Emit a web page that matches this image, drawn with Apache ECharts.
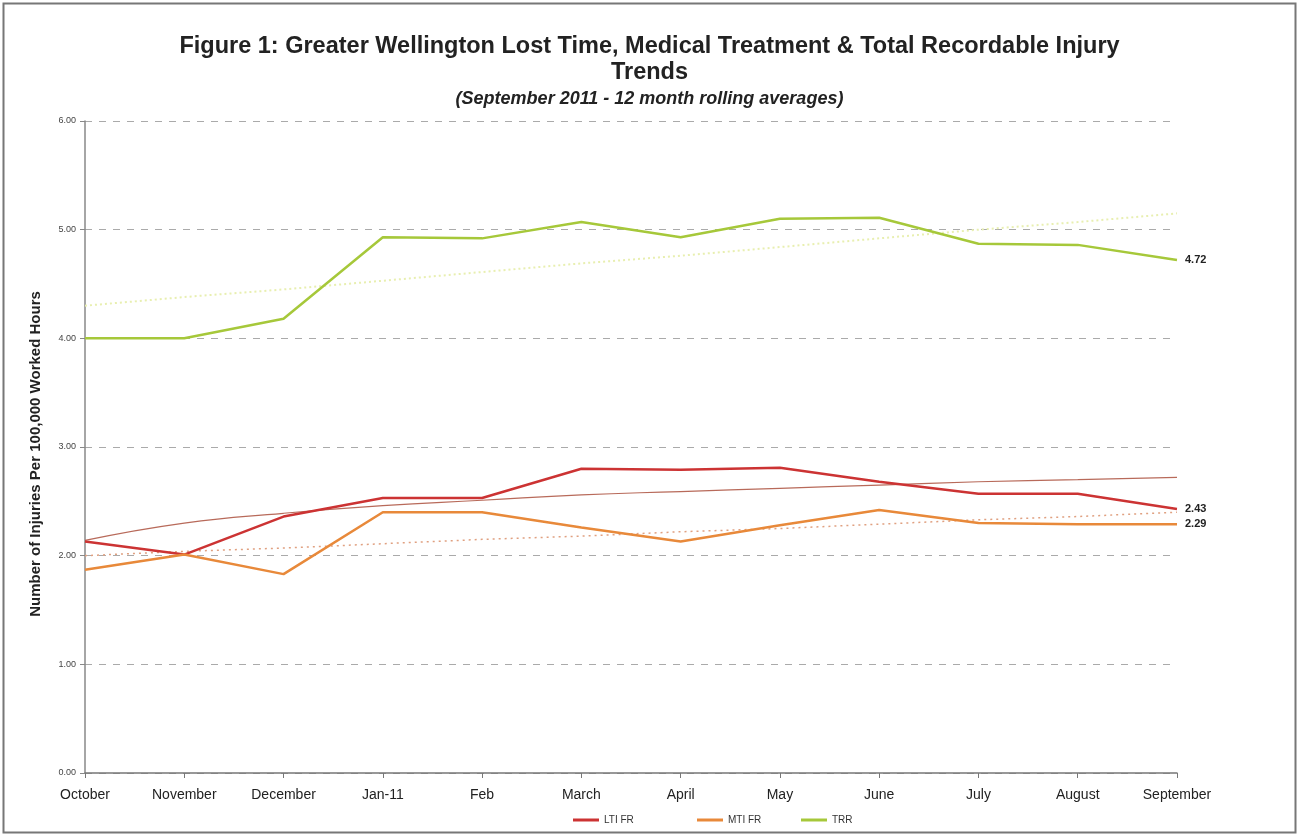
<!DOCTYPE html>
<html><head><meta charset="utf-8">
<script src="https://cdn.jsdelivr.net/npm/echarts@6/dist/echarts.min.js"></script>
<style>html,body{margin:0;padding:0;background:#fff}#c{width:1299px;height:836px}</style>
</head><body><div id="c"></div>
<script>
var categories = ['October','November','December','Jan-11','Feb','March','April','May','June','July','August','September'];
var ltiFR = [2.13, 2.01, 2.36, 2.53, 2.53, 2.80, 2.79, 2.81, 2.68, 2.57, 2.57, 2.43];
var mtiFR = [1.87, 2.01, 1.83, 2.40, 2.40, 2.26, 2.13, 2.28, 2.42, 2.30, 2.29, 2.29];
var trr   = [4.00, 4.00, 4.18, 4.93, 4.92, 5.07, 4.93, 5.10, 5.11, 4.87, 4.86, 4.72];
// trend lines
var ltiTrend = [2.14, 2.30, 2.39, 2.46, 2.51, 2.56, 2.59, 2.62, 2.65, 2.68, 2.70, 2.72];
var mtiTrend = [2.00, 2.04, 2.07, 2.11, 2.15, 2.18, 2.22, 2.25, 2.29, 2.33, 2.36, 2.40];
var trrTrend = [4.30, 4.38, 4.45, 4.53, 4.61, 4.69, 4.76, 4.84, 4.92, 5.00, 5.07, 5.15];
var yTicks = [0, 1, 2, 3, 4, 5, 6];
var legendNames = ['LTI FR','MTI FR','TRR'];

var chart = echarts.init(document.getElementById('c'), null, {renderer:'canvas'});
var ff = '"Liberation Sans", Arial, sans-serif';
function endLabel(){
  return {show:true, formatter:function(p){return p.value.toFixed(2);}, color:'#222', fontSize:11, fontWeight:'bold', fontFamily:ff, distance:8};
}
var legendLefts = [568, 692, 796];
var legends = legendNames.map(function(n, i){
  return {bottom:6, left:legendLefts[i], itemWidth:26, itemHeight:3, icon:'rect',
    data:[n], textStyle:{fontSize:10, color:'#333', fontFamily:ff}};
});
chart.setOption({
  animation:false,
  textStyle:{fontFamily:ff},
  graphic:[{type:'rect', shape:{x:3.5,y:3.5,width:1292,height:829}, style:{fill:'none', stroke:'#777', lineWidth:2}, silent:true}],
  title:[
    {text:'Figure 1: Greater Wellington Lost Time, Medical Treatment & Total Recordable Injury\nTrends', left:'center', top:29,
     textStyle:{fontSize:23.5, fontWeight:'bold', color:'#222', fontFamily:ff, lineHeight:26}},
    {text:'(September 2011 - 12 month rolling averages)', left:'center', top:85,
     textStyle:{fontSize:18, fontWeight:'bold', fontStyle:'italic', color:'#222', fontFamily:ff}}
  ],
  legend:legends,
  grid:{left:85, right:122, top:121, bottom:63},
  xAxis:{type:'category', data:categories, boundaryGap:false,
    axisLine:{lineStyle:{color:'#777', width:1.5}},
    axisTick:{show:true, alignWithLabel:true, length:5, lineStyle:{color:'#777'}},
    axisLabel:{fontSize:14, color:'#222', margin:15, fontFamily:ff}},
  yAxis:{type:'value', min:0, max:6, interval:1,
    name:'Number of Injuries Per 100,000 Worked Hours', nameLocation:'middle', nameGap:42, nameRotate:90,
    nameTextStyle:{fontSize:15, fontWeight:'bold', color:'#222', fontFamily:ff, padding:[0,14,0,0]},
    axisLine:{show:true, lineStyle:{color:'#888', width:1.5}},
    axisTick:{show:true, length:5, lineStyle:{color:'#888'}},
    axisLabel:{fontSize:9, color:'#444', margin:9, formatter:function(v){return v.toFixed(2);}},
    splitLine:{show:true, lineStyle:{color:'#aaa', type:[7,7], width:1}}},
  series:[
    {name:'LTI trend', type:'line', data:ltiTrend, symbol:'none', smooth:true, lineStyle:{color:'#b86a5a', width:1.2}, z:1},
    {name:'MTI trend', type:'line', data:mtiTrend, symbol:'none', lineStyle:{color:'#e0a080', width:1.5, type:[2,4]}, z:1},
    {name:'TRR trend', type:'line', data:trrTrend, symbol:'none', lineStyle:{color:'#e8efb0', width:2, type:[2,3]}, z:1},
    {name:'LTI FR', type:'line', data:ltiFR, symbol:'none', itemStyle:{color:'#cc3333'}, lineStyle:{color:'#cc3333', width:2.5}, z:3,
      endLabel:endLabel()},
    {name:'MTI FR', type:'line', data:mtiFR, symbol:'none', itemStyle:{color:'#e8893a'}, lineStyle:{color:'#e8893a', width:2.5}, z:3,
      endLabel:endLabel()},
    {name:'TRR', type:'line', data:trr, symbol:'none', itemStyle:{color:'#a6c83a'}, lineStyle:{color:'#a6c83a', width:2.5}, z:3,
      endLabel:endLabel()}
  ]
});
</script></body></html>
